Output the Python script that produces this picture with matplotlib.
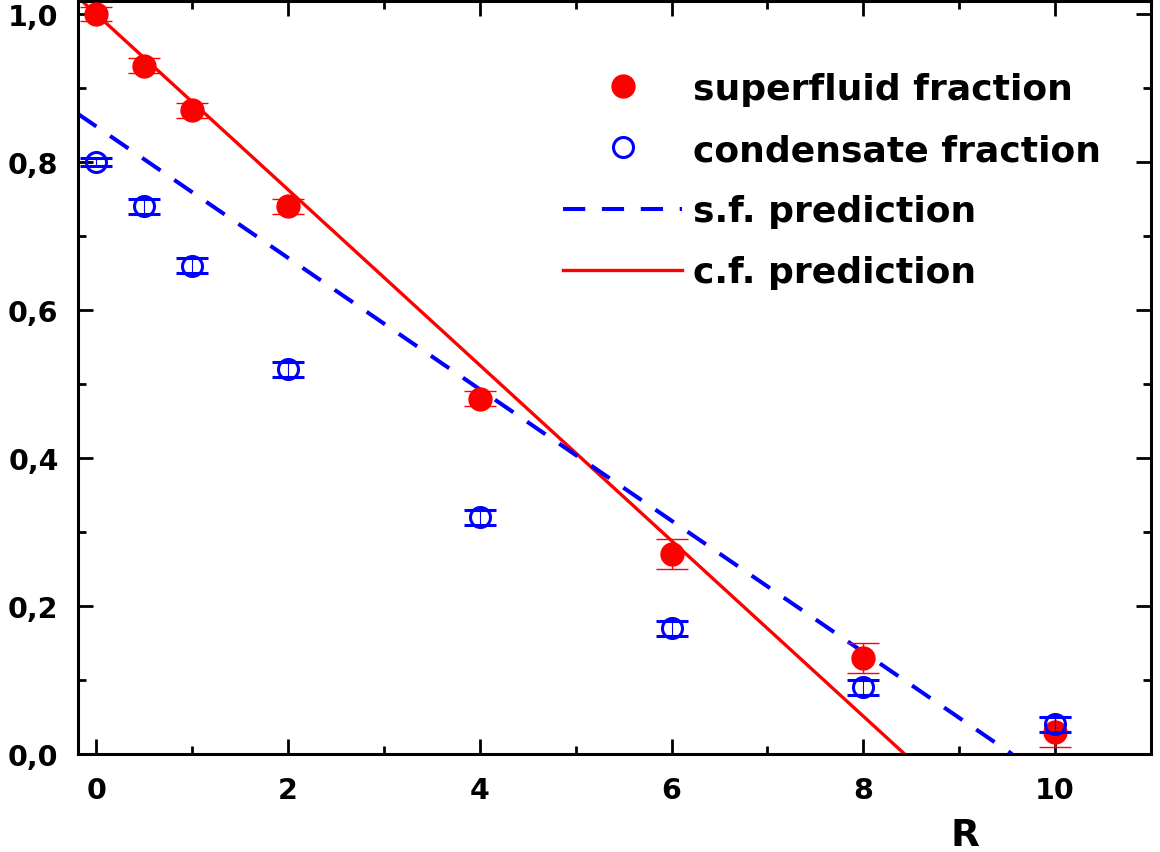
import matplotlib
matplotlib.use("Agg")
import matplotlib.pyplot as plt
from matplotlib.ticker import MultipleLocator, FuncFormatter
from matplotlib.lines import Line2D

# ---- data ----
R = [0, 0.5, 1, 2, 4, 6, 8, 10]
superfluid = [1.00, 0.93, 0.87, 0.74, 0.48, 0.27, 0.13, 0.03]
superfluid_err = [0.01, 0.01, 0.01, 0.01, 0.01, 0.02, 0.02, 0.02]
condensate = [0.80, 0.74, 0.66, 0.52, 0.32, 0.17, 0.09, 0.04]
condensate_err = [0.005, 0.01, 0.01, 0.01, 0.01, 0.01, 0.01, 0.01]

sf_pred_x = [-0.19, 9.55]
sf_pred_y = [0.865, 0.0]
cf_pred_x = [-0.19, 8.43]
cf_pred_y = [1.0225, 0.0]

xticks = [0, 2, 4, 6, 8, 10]
yticks = [0.0, 0.2, 0.4, 0.6, 0.8, 1.0]

plt.rcParams['font.family'] = ['DejaVu Sans']
plt.rcParams['font.weight'] = 'bold'
plt.rcParams['lines.scale_dashes'] = False

fig = plt.figure(figsize=(11.6, 8.53), dpi=100)
ax = fig.add_axes([78/1160, 1-755/853, (1151-78)/1160, (755-2)/853])

RED = '#ff0000'
BLUE = '#0000ff'

ax.plot(cf_pred_x, cf_pred_y, color=RED, lw=2.4, zorder=2)
ax.plot(sf_pred_x, sf_pred_y, color=BLUE, lw=2.9, dashes=(16, 12), zorder=2)

ax.errorbar(R, superfluid, yerr=superfluid_err, fmt='o', color=RED, ms=16.5,
            mec=RED, mfc=RED, ecolor=RED, elinewidth=1.0, capsize=11.5,
            capthick=1.0, zorder=3)
ax.errorbar(R, condensate, yerr=condensate_err, fmt='o', color=BLUE, ms=14.4,
            mec=BLUE, mfc='none', mew=2.2, ecolor=BLUE, elinewidth=0.8,
            capsize=11.5, capthick=0.8, zorder=4)

ax.set_xlim(-0.19, 11.0)
ax.set_ylim(0, 1.0176)
ax.xaxis.set_minor_locator(MultipleLocator(1))
ax.yaxis.set_minor_locator(MultipleLocator(0.1))
ax.set_xticks(xticks)
ax.set_yticks(yticks)
ax.yaxis.set_major_formatter(FuncFormatter(lambda v, p: f"{v:.1f}".replace('.', ',')))
ax.xaxis.set_major_formatter(FuncFormatter(lambda v, p: f"{v:.0f}"))

for s in ax.spines.values():
    s.set_linewidth(2.2)
ax.tick_params(which='both', direction='in', top=True, right=True, width=2.0,
               labelsize=20.5)
ax.tick_params(which='major', length=11)
ax.tick_params(which='minor', length=6)
ax.tick_params(axis='y', which='major', pad=14)
ax.tick_params(axis='x', which='major', pad=16)
for lab in ax.get_xticklabels() + ax.get_yticklabels():
    lab.set_fontweight('bold')

fig.text(965/1160, 1-836/853, 'R', fontsize=27, fontweight='bold',
         ha='center', va='center')

handles = [
    Line2D([], [], ls='none', marker='o', ms=16.5, color=RED, mfc=RED, mec=RED),
    Line2D([], [], ls='none', marker='o', ms=14.4, color=BLUE, mfc='none', mec=BLUE, mew=2.2),
    Line2D([], [], color=BLUE, lw=2.9, dashes=(16, 12)),
    Line2D([], [], color=RED, lw=2.4),
]
labels = ['superfluid fraction', 'condensate fraction', 's.f. prediction', 'c.f. prediction']
leg = ax.legend(handles, labels, loc='upper left', bbox_to_anchor=(563/1160, 1-73/853),
                bbox_transform=fig.transFigure, frameon=False, fontsize=26,
                handlelength=3.3, handletextpad=0.3, labelspacing=0.75,
                borderpad=0, borderaxespad=0)
for t in leg.get_texts():
    t.set_fontweight('bold')

fig.savefig('out.png', dpi=100)
